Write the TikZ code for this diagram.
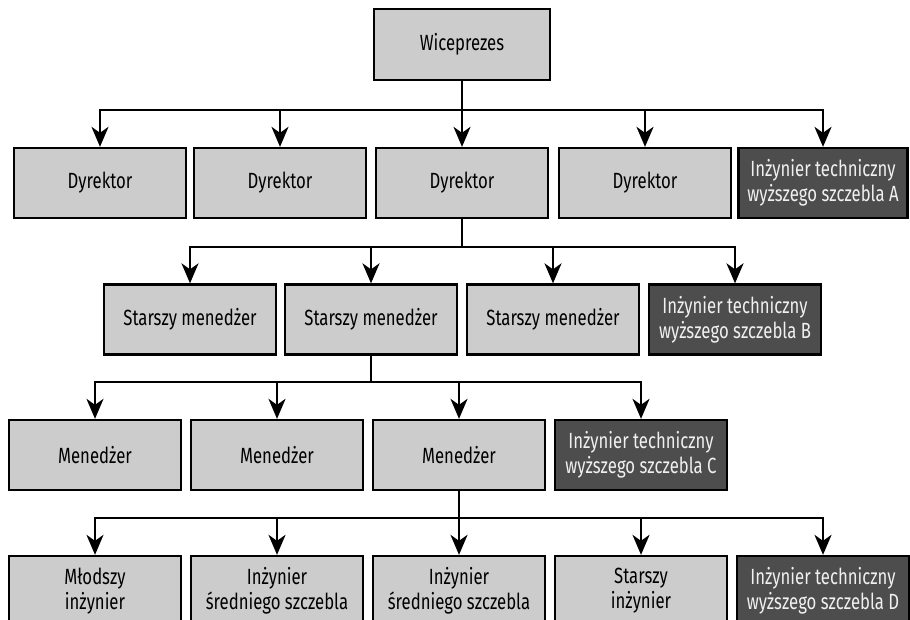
\documentclass[tikz,border=0pt]{standalone}
\usepackage{fontspec}
\setmainfont{Fira Sans}[FakeStretch=0.76]
\usetikzlibrary{arrows.meta}
\definecolor{boxgray}{HTML}{CCCCCC}
\definecolor{boxdark}{HTML}{4D4D4D}
\definecolor{boxtext}{HTML}{F0F0F0}
\begin{document}
\begin{tikzpicture}[x=1pt,y=-1pt,
box/.style = {draw, line width=2.3pt, fill=boxgray, align=center, inner sep=0pt, minimum width=172pt, minimum height=70pt, font=\fontsize{22}{25}\selectfont},
dark/.style = {box, fill=boxdark, text=boxtext},
arr/.style = {line width=2.3pt, -{Stealth[length=20pt,width=17pt,inset=6pt]}}]
\useasboundingbox (0,0) rectangle (910,620);
\node[box,minimum width=176pt,minimum height=71pt] (wp) at (462,44.5) {Wiceprezes};
\node[box] (d1) at (100,183) {Dyrektor};
\node[box] (d2) at (280,183) {Dyrektor};
\node[box] (d3) at (462,183) {Dyrektor};
\node[box] (d4) at (645,183) {Dyrektor};
\node[dark,minimum width=169pt] (ea) at (823,183) {Inżynier techniczny\\wyższego szczebla A};
\node[box] (s1) at (190,319.5) {Starszy menedżer};
\node[box] (s2) at (371,319.5) {Starszy menedżer};
\node[box] (s3) at (553,319.5) {Starszy menedżer};
\node[dark] (eb) at (735,319.5) {Inżynier techniczny\\wyższego szczebla B};
\node[box] (m1) at (95,455) {Menedżer};
\node[box] (m2) at (277,455) {Menedżer};
\node[box] (m3) at (459,455) {Menedżer};
\node[dark] (ec) at (641,455) {Inżynier techniczny\\wyższego szczebla C};
\node[box] (i1) at (95,591) {Młodszy\\inżynier};
\node[box] (i2) at (277,591) {Inżynier\\średniego szczebla};
\node[box] (i3) at (459,591) {Inżynier\\średniego szczebla};
\node[box] (i4) at (641,591) {Starszy\\inżynier};
\node[dark] (ed) at (823,591) {Inżynier techniczny\\wyższego szczebla D};
\coordinate (b1) at (wp |- 0,110);
\coordinate (b2) at (d3 |- 0,247);
\coordinate (b3) at (s2 |- 0,382);
\coordinate (b4) at (m3 |- 0,518);
\draw[line width=2.3pt] (wp) -- (b1) (d3) -- (b2) (s2) -- (b3) (m3) -- (b4);
\foreach \n in {d1,d2,d3,d4,ea} \draw[arr] (b1) -| (\n);
\foreach \n in {s1,s2,s3,eb} \draw[arr] (b2) -| (\n);
\foreach \n in {m1,m2,m3,ec} \draw[arr] (b3) -| (\n);
\foreach \n in {i1,i2,i3,i4,ed} \draw[arr] (b4) -| (\n);
\end{tikzpicture}
\end{document}
